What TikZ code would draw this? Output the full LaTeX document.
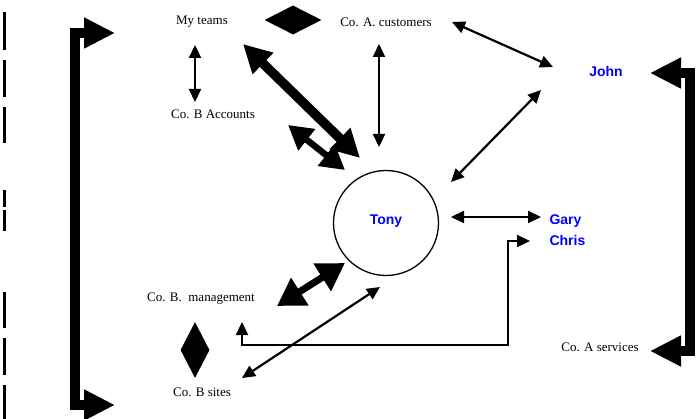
\documentclass[tikz,border=0pt]{standalone}
\usepackage{fontspec}
\setmainfont{Liberation Serif}
\newfontfamily\namefont{Liberation Sans}
\usetikzlibrary{arrows.meta,shapes.geometric}

\begin{document}
\begin{tikzpicture}[x=1pt,y=-1pt,
  lbl/.style={font=\fontsize{13}{15}\selectfont},
  who/.style={font=\namefont\bfseries\fontsize{14}{21}\selectfont, text=blue, align=left},
  blob/.style={diamond, fill=black, inner sep=0pt},
  link/.style={line width=2.2pt, {Triangle[length=13pt,width=12pt]}-{Triangle[length=13pt,width=12pt]}},
  fatlink/.style={line width=9.5pt, {Triangle[length=28pt,width=28pt]}-{Triangle[length=28pt,width=28pt]}},
  midlink/.style={line width=6.5pt, {Triangle[length=24pt,width=26pt]}-{Triangle[length=24pt,width=26pt]}},
  bracket/.style={line width=10pt, {Triangle[length=31pt,width=29pt]}-{Triangle[length=31pt,width=29pt]}}
]
  \useasboundingbox (0,0) rectangle (698,419);

  % change bars in the margin
  \foreach \a/\b in {12/50,60/97,107/143,190/207,210/231,292/328,338/375,385/419}
    \draw[line width=2.2pt] (4.5,\a) -- (4.5,\b);

  \node[lbl] (myteams) at (202,22) {My teams};
  \node[lbl] (coacust) at (386,22) {Co. A. customers};
  \node[lbl] (cobacc) at (213,114) {Co. B Accounts};
  \node[lbl] (cobmgmt) at (201,299) {Co. B.\ \ management};
  \node[lbl] (cobsites) at (202,392) {Co. B sites};
  \node[lbl] (coasvc) at (600,347) {Co. A services};

  \node[who] (john) at (606,71) {John};
  \node[who, anchor=west] (garychris) at (546,230) {Gary\\Chris};
  \node[who, circle, draw=black, line width=1.3pt, minimum size=105pt] (tony) at (386,223) {\raisebox{7pt}{Tony}};

  \node[blob, minimum width=57pt, minimum height=29pt] (blobA) at (293,20) {};
  \node[blob, minimum width=29pt, minimum height=56pt] (blobB) at (195,350) {};

  % brackets
  \coordinate (ltop) at (115,33);
  \coordinate (lbot) at (115,405);
  \draw[bracket] (ltop) -- ++(-40,0) |- (lbot);
  \draw[bracket] ([shift={(44,2)}]john.center) -- ++(40,0) |- ([shift={(50,4)}]coasvc.center);

  % thin links
  \draw[link] ([shift={(-7,23)}]myteams.center) -- ([shift={(-18,-12)}]cobacc.center);
  \draw[link] ([shift={(-7,22)}]coacust.center) -- ([shift={(-7,-76)}]tony.center);
  \draw[link] ([shift={(66,0)}]coacust.center) -- ([shift={(-53,-4)}]john.center);
  \draw[link] ([shift={(-65,19)}]john.center) -- ([shift={(65,-41)}]tony.center);
  \draw[link] ([shift={(65,-6)}]tony.center) -- ([shift={(-5,-13)}]garychris.west);
  \draw[link] ([shift={(-6,64)}]tony.center) -- ([shift={(40,-14)}]cobsites.center);
  \draw[link] ([shift={(41,23)}]cobmgmt.center) -- ++(0,23) -- ++(266,0) |- ([shift={(-16,11)}]garychris.west);

  % heavy links
  \draw[fatlink] ([shift={(41,22)}]myteams.center) -- ([shift={(-26,-65)}]tony.center);
  \draw[midlink] ([shift={(75,11)}]cobacc.center) -- ([shift={(-41,-53)}]tony.center);
  \draw[midlink, line width=7pt, {Triangle[length=27pt,width=31pt]}-{Triangle[length=27pt,width=31pt]}] ([shift={(76,7)}]cobmgmt.center) -- ([shift={(-41,40)}]tony.center);
\end{tikzpicture}
\end{document}
